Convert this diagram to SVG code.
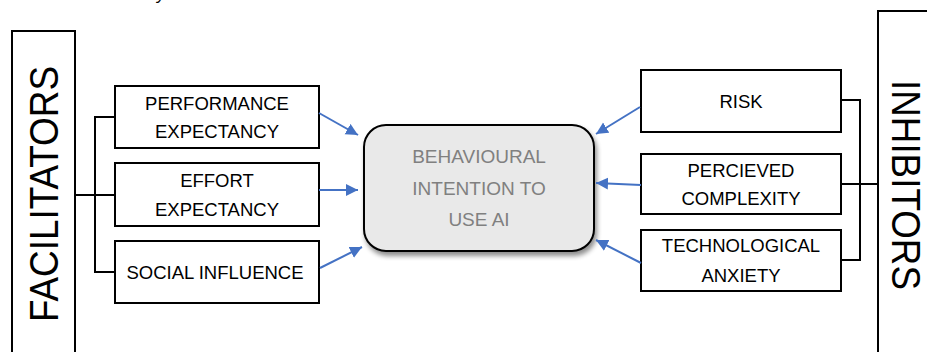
<svg xmlns="http://www.w3.org/2000/svg" width="927" height="352" viewBox="0 0 927 352">
<style>
.box{fill:#fff;stroke:#000;stroke-width:2}
.t{font-family:"Liberation Sans",Arial,sans-serif;font-size:18.5px;fill:#000;text-anchor:middle}
.g{fill:#808080;font-size:19px}
.big{font-family:"Liberation Sans",Arial,sans-serif;font-size:40px;fill:#000;text-anchor:middle}
.ln{fill:none;stroke:#000;stroke-width:2}
.ar{fill:none;stroke:#4472c4;stroke-width:2}
</style>
<defs>
<marker id="ah" markerUnits="userSpaceOnUse" markerWidth="14" markerHeight="14" refX="12" refY="6" orient="auto">
<path d="M0,0 L12,6 L0,12 Z" fill="#4472c4"/>
</marker>
<filter id="sh" x="-10%" y="-10%" width="125%" height="130%">
<feGaussianBlur in="SourceAlpha" stdDeviation="2.5"/>
<feOffset dx="2" dy="4"/>
<feComponentTransfer><feFuncA type="linear" slope="0.45"/></feComponentTransfer>
<feMerge><feMergeNode/><feMergeNode in="SourceGraphic"/></feMerge>
</filter>
</defs>
<text x="157" y="-1" font-family="Liberation Sans, sans-serif" font-size="18" font-style="italic">y</text>

<g id="facilitators">
<rect class="box" x="12" y="31" width="63" height="340"/>
<text class="big" transform="translate(58,194) rotate(-90)" textLength="256" lengthAdjust="spacingAndGlyphs">FACILITATORS</text>
</g>
<g id="inhibitors">
<rect class="box" x="878" y="11" width="70" height="360"/>
<text class="big" transform="translate(892,185) rotate(90)" textLength="210" lengthAdjust="spacingAndGlyphs">INHIBITORS</text>
</g>

<g id="performance">
<rect class="box" x="115" y="86" width="204" height="62"/>
<text class="t" x="217" y="110">PERFORMANCE</text>
<text class="t" x="217" y="138">EXPECTANCY</text>
</g>
<g id="effort">
<rect class="box" x="115" y="163" width="204" height="63"/>
<text class="t" x="217" y="187">EFFORT</text>
<text class="t" x="217" y="216">EXPECTANCY</text>
</g>
<g id="social">
<rect class="box" x="115" y="241" width="204" height="62"/>
<text class="t" x="215" y="279">SOCIAL INFLUENCE</text>
</g>

<g id="intention">
<rect x="364" y="125" width="230" height="126" rx="22" ry="22" fill="#e9e9e9" stroke="#000" stroke-width="2" filter="url(#sh)"/>
<text class="t g" x="479" y="163">BEHAVIOURAL</text>
<text class="t g" x="479" y="195">INTENTION TO</text>
<text class="t g" x="479" y="226">USE AI</text>
</g>

<g id="risk">
<rect class="box" x="641" y="70" width="200" height="62"/>
<text class="t" x="741" y="108">RISK</text>
</g>
<g id="complexity">
<rect class="box" x="641" y="154" width="200" height="60"/>
<text class="t" x="741" y="177">PERCIEVED</text>
<text class="t" x="741" y="205">COMPLEXITY</text>
</g>
<g id="anxiety">
<rect class="box" x="641" y="230" width="200" height="61"/>
<text class="t" x="741" y="252">TECHNOLOGICAL</text>
<text class="t" x="741" y="282">ANXIETY</text>
</g>

<g id="connectors">
<path class="ln" d="M115,117 H95 V272 H115 M75,195 H115"/>
<path class="ln" d="M841,100 H860 V260 H841 M841,184 H878"/>
<line class="ar" x1="319" y1="113" x2="358" y2="135" marker-end="url(#ah)"/>
<line class="ar" x1="319" y1="190" x2="358" y2="190" marker-end="url(#ah)"/>
<line class="ar" x1="320" y1="268" x2="362" y2="247" marker-end="url(#ah)"/>
<line class="ar" x1="640" y1="107" x2="596" y2="134" marker-end="url(#ah)"/>
<line class="ar" x1="641" y1="185" x2="596" y2="183" marker-end="url(#ah)"/>
<line class="ar" x1="641" y1="263" x2="596" y2="240" marker-end="url(#ah)"/>
</g>
</svg>
